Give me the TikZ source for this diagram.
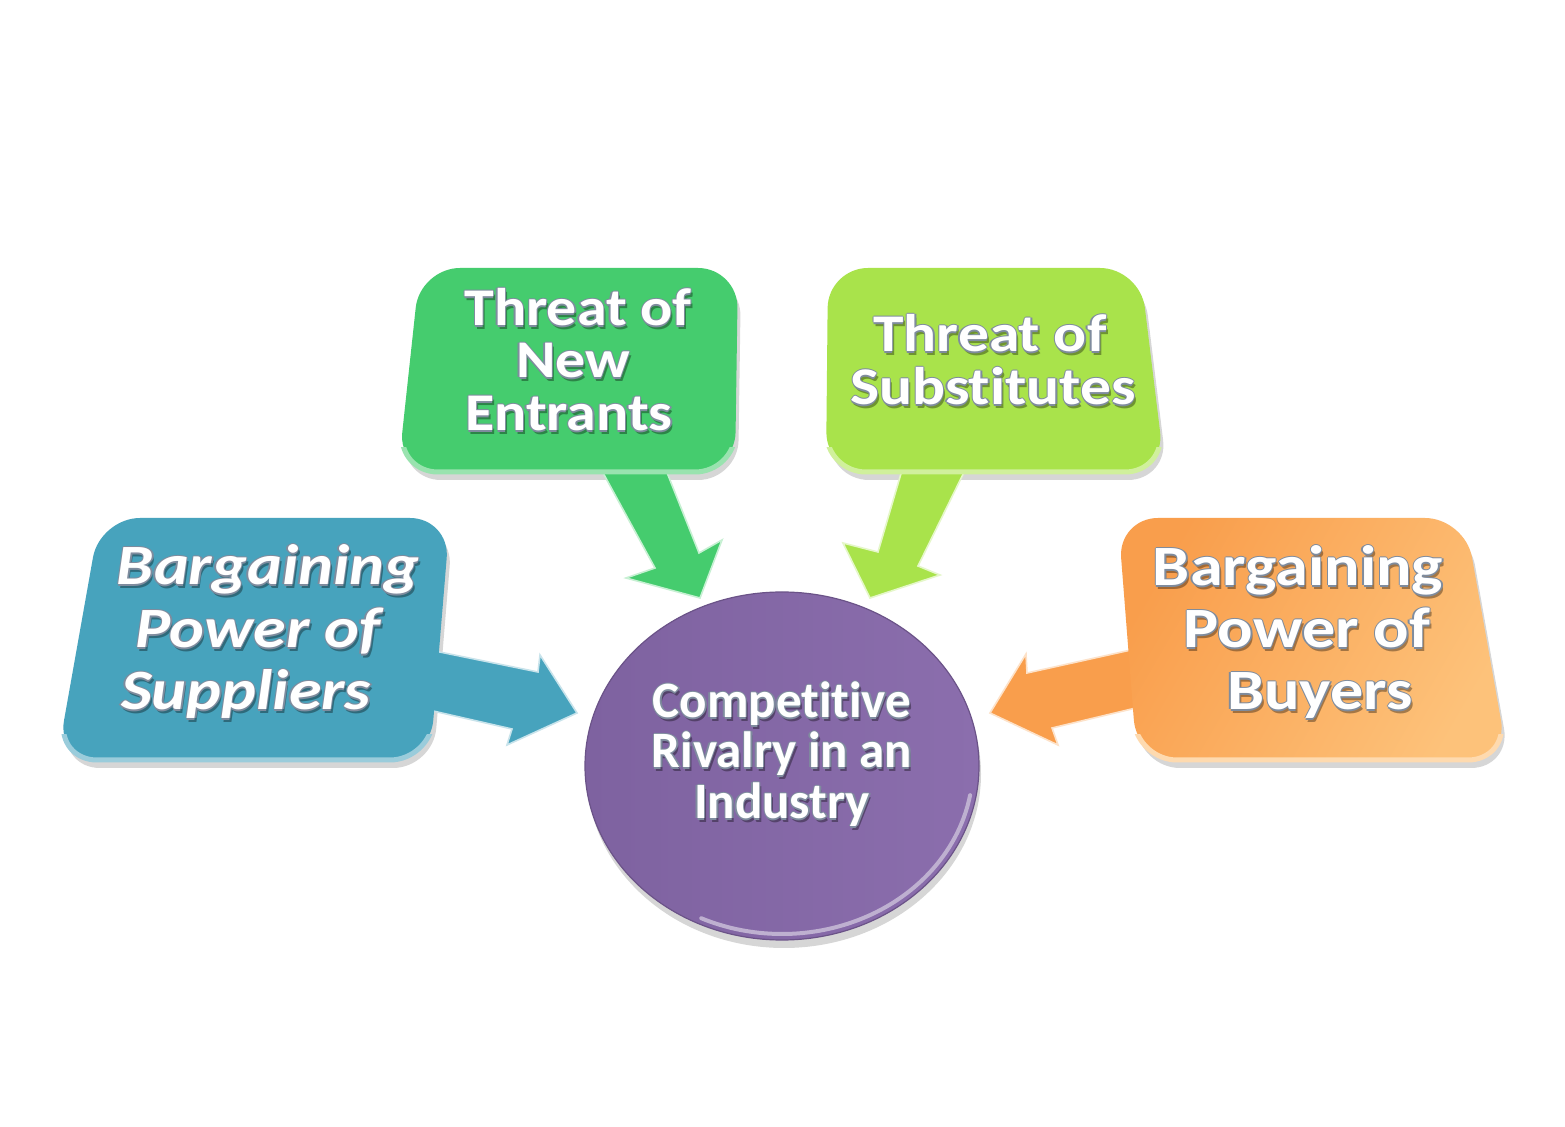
\documentclass[tikz,border=0pt]{standalone}
\usepackage{fontspec}
\setmainfont{Carlito}[Ligatures={NoCommon}]
\usepackage{graphicx}
\usetikzlibrary{shapes.geometric}
\definecolor{cblue}{HTML}{47A3BD}
\definecolor{cgreen}{HTML}{45CC6E}
\definecolor{clime}{HTML}{A9E34B}
\definecolor{corangeA}{HTML}{F99E4C}
\definecolor{corangeB}{HTML}{FDC27A}
\definecolor{cpurple}{HTML}{7E62A0}
\definecolor{cpurpleL}{HTML}{8B6EAD}
\definecolor{outl}{HTML}{7F8C9E}
\tikzset{
  txtbase/.style={inner sep=0pt, anchor=base},
  fsup/.style={font=\fontsize{28.5}{30}\selectfont\bfseries\itshape},
  fbuy/.style={font=\fontsize{28.5}{30}\selectfont\bfseries},
  fgrn/.style={font=\fontsize{26.5}{28}\selectfont\bfseries},
  fcir/.style={font=\fontsize{25.5}{27}\selectfont\bfseries},
  shad/.style={fill=black, opacity=0.16},
  boxr/.style={rounded corners=20},
  rim/.style={line width=2.5pt, rounded corners=20},
}
% #1 name, #2 x,y of baseline centre, #3 font style, #4 xscale, #5 text
\newcommand\txt[5]{%
  \node[txtbase,#3,text=black,opacity=.35] (#1-sh) at ([shift={(2,4)}]#2) {\scalebox{#4}[1]{#5}};
  \node[txtbase,#3,text=outl] (#1-o1) at ([shift={(-1.3,0)}]#2) {\scalebox{#4}[1]{#5}};
  \node[txtbase,#3,text=outl] (#1-o2) at ([shift={(1.3,0)}]#2) {\scalebox{#4}[1]{#5}};
  \node[txtbase,#3,text=outl] (#1-o3) at ([shift={(0,-1.3)}]#2) {\scalebox{#4}[1]{#5}};
  \node[txtbase,#3,text=outl] (#1-o4) at ([shift={(0,1.3)}]#2) {\scalebox{#4}[1]{#5}};
  \node[txtbase,#3,text=white] (#1) at (#2) {\scalebox{#4}[1]{#5}};
}
\newcommand\boxsup[1]{\path[boxr,#1] (100,518) -- (450,518) -- (430,760) -- (57,760) -- cycle;}
\newcommand\boxent[1]{\path[boxr,#1] (420,268) -- (738,268) -- (735,472) -- (398,472) -- cycle;}
\newcommand\boxsub[1]{\path[boxr,#1] (828,268) -- (1140,268) -- (1165,472) -- (826,472) -- cycle;}
\newcommand\boxbuy[1]{\path[boxr,#1] (1118,518) -- (1465,518) -- (1508,760) -- (1137,760) -- cycle;}
\begin{document}
\begin{tikzpicture}[x=0.5pt,y=-0.5pt]
\useasboundingbox (0,0) rectangle (1565,1127);
\fill[white] (0,0) rectangle (1565,1127);

% named anchor coordinates
\coordinate (sup) at (255,640);
\coordinate (ent) at (568,370);
\coordinate (sub) at (995,370);
\coordinate (buy) at (1312,640);

% shadows
\boxsup{shad,shift={(3,8)}}
\boxent{shad,shift={(3,8)}}
\boxsub{shad,shift={(3,8)}}
\boxbuy{shad,shift={(3,8)}}
\fill[shad] (784,774) ellipse [x radius=197, y radius=174];

% block arrows (connectors)
\fill[cblue, draw=white!70!cblue, line width=0.8pt]
  (420,648) -- (538,672) -- (540,655) -- (577,713) -- (507,745) -- (512,729) -- (420,708) -- cycle;
\fill[cgreen, draw=white!70!cgreen, line width=0.8pt]
  (596,460) -- (655,568) -- (626,578) -- (700,598) -- (722,540) -- (699,553) -- (662,460) -- cycle;
\fill[clime, draw=white!70!clime, line width=0.8pt]
  (905,460) -- (878,552) -- (843,543) -- (870,598) -- (940,575) -- (918,566) -- (970,460) -- cycle;
\fill[corangeA, draw=white!70!corangeA, line width=0.8pt]
  (1140,648) -- (1027,673) -- (1026,654) -- (990,713) -- (1058,745) -- (1052,728) -- (1140,707) -- cycle;

% boxes
\boxsup{fill=cblue}
\boxent{fill=cgreen}
\boxsub{fill=clime}
\boxbuy{left color=corangeA, right color=corangeB, shading angle=60}

% bottom rims
\begin{scope}
  \clip (0,735) rectangle (1565,800);
  \boxsup{draw=cblue!55!white, rim}
  \boxbuy{draw=corangeB!60!white, rim}
\end{scope}
\begin{scope}
  \clip (0,448) rectangle (1565,500);
  \boxent{draw=cgreen!55!white, rim}
  \boxsub{draw=clime!55!white, rim}
\end{scope}

% central circle
\node[ellipse, minimum width=197pt, minimum height=174pt, inner sep=0pt,
      left color=cpurple, right color=cpurpleL, draw=cpurple!85!black, line width=0.6pt]
  (rivalry) at (782,766) {};
\draw[white!50!cpurple, line width=2pt, line cap=round]
  ([shift={(10:191 and 168)}]782,766) arc[start angle=10, end angle=115, x radius=191, y radius=168];

% labels
\txt{sup1}{268,585}{fsup}{1.16}{Bargaining}
\txt{sup2}{258,648}{fsup}{1.16}{Power of}
\txt{sup3}{246,710}{fsup}{1.16}{Suppliers}

\txt{ent1}{578,326}{fgrn}{1.13}{Threat of}
\txt{ent2}{573,378}{fgrn}{1.13}{New}
\txt{ent3}{569,431}{fgrn}{1.13}{Entrants}

\txt{sub1}{990,352}{fgrn}{1.16}{Threat of}
\txt{sub2}{993,405}{fgrn}{1.16}{Substitutes}

\txt{buy1}{1298,586}{fbuy}{1.16}{Bargaining}
\txt{buy2}{1307,648}{fbuy}{1.16}{Power of}
\txt{buy3}{1320,710}{fbuy}{1.16}{Buyers}

\txt{cir1}{782,718}{fcir}{1.0}{Competitive}
\txt{cir2}{782,768}{fcir}{1.0}{Rivalry in an}
\txt{cir3}{782,819}{fcir}{1.0}{Industry}
\end{tikzpicture}
\end{document}
